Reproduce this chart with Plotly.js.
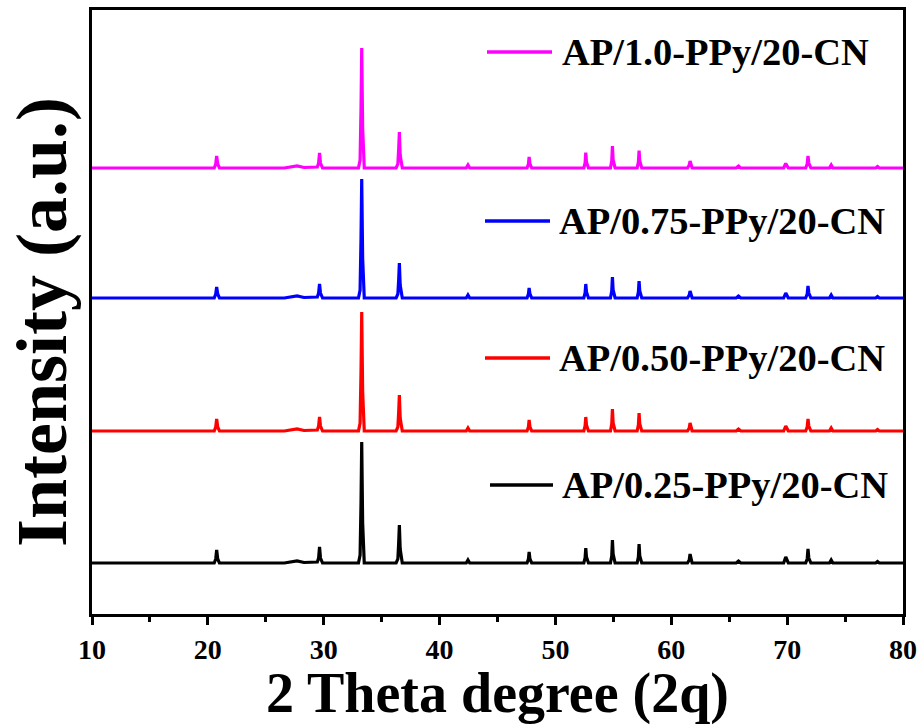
<!DOCTYPE html>
<html>
<head>
<meta charset="utf-8">
<script src="https://cdn.plot.ly/plotly-3.0.1.min.js"></script>
<style>html,body{margin:0;padding:0;background:#fff;}#chart{width:918px;height:725px;}</style>
</head>
<body>
<div id="chart"></div>
<script>
// 2θ sampling points (degrees)
const twoTheta = [10,
  20.55, 20.68, 20.76, 20.85, 21.0,
  26.6, 27.2, 27.7, 28.3,
  29.2, 29.45, 29.56, 29.64, 29.72, 29.9,
  33.0, 33.14, 33.22, 33.28, 33.36, 33.5,
  36.25, 36.4, 36.47, 36.53, 36.6, 36.78,
  42.3, 42.45, 42.6,
  47.55, 47.67, 47.73, 47.8, 47.95,
  52.45, 52.56, 52.62, 52.68, 52.85,
  54.75, 54.86, 54.92, 54.98, 55.15,
  57.05, 57.16, 57.22, 57.28, 57.45,
  61.4, 61.55, 61.62, 61.8,
  65.6, 65.8, 66.0,
  69.7, 69.88, 70.1,
  71.6, 71.73, 71.8, 71.87, 72.05,
  73.65, 73.8, 73.95,
  77.65, 77.8, 77.95,
  80];

// intensities (a.u.) for each sample
const int025 = [0,
  0, 4, 13, 4, 0,
  0, 1.5, 2, 0.5,
  0.5, 1, 5, 16, 5, 0,
  0, 8, 60, 121, 40, 0,
  0, 4, 20, 38, 14, 0,
  0, 3, 0,
  0, 4, 11, 4, 0,
  0, 5, 15, 6, 0,
  0, 7, 23, 9, 0,
  0, 6, 19, 7, 0,
  0, 3, 9, 0,
  0, 2, 0,
  0, 6, 0,
  0, 4, 14, 5, 0,
  0, 3, 0,
  0, 1.5, 0,
  0];
const int050 = [0,
  0, 4, 12, 4, 0,
  0, 1.5, 2, 0.5,
  0.5, 1, 5, 14, 5, 0,
  0, 8, 60, 119, 40, 0,
  0, 4, 19, 36, 13, 0,
  0, 3, 0,
  0, 4, 11, 4, 0,
  0, 5, 14, 6, 0,
  0, 7, 22, 8, 0,
  0, 6, 18, 7, 0,
  0, 3, 8, 0,
  0, 2, 0,
  0, 5, 0,
  0, 4, 12, 5, 0,
  0, 3, 0,
  0, 1.5, 0,
  0];
const int075 = [0,
  0, 4, 11, 4, 0,
  0, 1.5, 2, 0.5,
  0.5, 1, 5, 14, 5, 0,
  0, 8, 60, 119, 40, 0,
  0, 4, 18, 35, 13, 0,
  0, 3, 0,
  0, 4, 10, 4, 0,
  0, 5, 14, 6, 0,
  0, 7, 21, 8, 0,
  0, 6, 17, 7, 0,
  0, 3, 7, 0,
  0, 2, 0,
  0, 5, 0,
  0, 4, 12, 5, 0,
  0, 3, 0,
  0, 1.5, 0,
  0];
const int100 = [0,
  0, 4, 12, 4, 0,
  0, 1.5, 2, 0.5,
  0.5, 1, 5, 15, 5, 0,
  0, 8, 60, 120, 40, 0,
  0, 4, 19, 36, 13, 0,
  0, 3, 0,
  0, 4, 11, 4, 0,
  0, 5, 15.5, 6, 0,
  0, 7, 22, 8, 0,
  0, 6, 17.5, 7, 0,
  0, 3, 7, 0,
  0, 2, 0,
  0, 4.5, 0,
  0, 4, 12, 5, 0,
  0, 3, 0,
  0, 1.5, 0,
  0];

const seriesNames = ["AP/0.25-PPy/20-CN", "AP/0.50-PPy/20-CN", "AP/0.75-PPy/20-CN", "AP/1.0-PPy/20-CN"];
const seriesData = [int025, int050, int075, int100];
const seriesColors = ["#000000", "#ff0000", "#0000ff", "#ff00ff"];
const seriesOffsets = [51, 183, 316, 446];
const xTicks = [10, 20, 30, 40, 50, 60, 70, 80];

// legend placement (pixel rows inside the figure, measured from the top)
const legendRows = [485, 358, 221, 52];
const legendLineX = [[490, 553], [485, 550], [485, 550], [487, 552]];
const legendTextX = [560, 557, 557, 560];

const plotL = 92, plotR = 903, plotT = 10, plotB = 614;
const W = plotR - plotL, H = plotB - plotT;
const px2x = p => (p - plotL) / W;
const px2y = p => (plotB - p) / H;
const serif = 'Liberation Serif, Times New Roman, serif';

const traces = seriesData.map((arr, i) => ({
  x: twoTheta,
  y: arr.map(v => v + seriesOffsets[i]),
  type: 'scatter',
  mode: 'lines',
  line: {color: seriesColors[i], width: 3.2},
  name: seriesNames[i],
  showlegend: false
}));

const shapes = [], annotations = [];
seriesNames.forEach((n, i) => {
  shapes.push({type: 'line', xref: 'paper', yref: 'paper',
    x0: px2x(legendLineX[i][0]), x1: px2x(legendLineX[i][1]),
    y0: px2y(legendRows[i]), y1: px2y(legendRows[i]),
    line: {color: seriesColors[i], width: 3.5}});
  annotations.push({xref: 'paper', yref: 'paper', x: px2x(legendTextX[i]), y: px2y(legendRows[i]),
    xanchor: 'left', yanchor: 'middle', showarrow: false, text: n,
    font: {family: serif, size: 38.5, color: '#000', weight: 'bold'}});
});
// y-axis title as rotated annotation
annotations.push({xref: 'paper', yref: 'paper', x: px2x(42), y: px2y(322),
  xanchor: 'center', yanchor: 'middle', showarrow: false, textangle: -90,
  text: 'Intensity (a.u.)', font: {family: serif, size: 72, color: '#000', weight: 'bold'}});

const layout = {
  width: 918, height: 725,
  margin: {l: plotL, r: 918 - plotR, t: plotT, b: 725 - plotB},
  paper_bgcolor: '#ffffff', plot_bgcolor: '#ffffff',
  showlegend: false,
  font: {family: serif, color: '#000'},
  xaxis: {
    range: [10, 80], tickvals: xTicks, ticktext: xTicks.map(String),
    ticks: 'outside', ticklen: 8, tickwidth: 3, tickcolor: '#000',
    minor: {dtick: 5, tick0: 0, ticks: 'outside', ticklen: 5, tickwidth: 3, tickcolor: '#000'},
    showline: true, linewidth: 3, linecolor: '#000', mirror: true,
    showgrid: false, zeroline: false,
    tickfont: {family: serif, size: 28, weight: 'bold'},
    title: {text: '2 Theta degree (2q)', standoff: 14,
      font: {family: serif, size: 56, weight: 'bold'}}
  },
  yaxis: {
    range: [0, H], showticklabels: false, ticks: '',
    showline: true, linewidth: 3, linecolor: '#000', mirror: true,
    showgrid: false, zeroline: false
  },
  shapes: shapes,
  annotations: annotations
};

Plotly.newPlot('chart', traces, layout, {displayModeBar: false, staticPlot: true});
</script>
</body>
</html>
